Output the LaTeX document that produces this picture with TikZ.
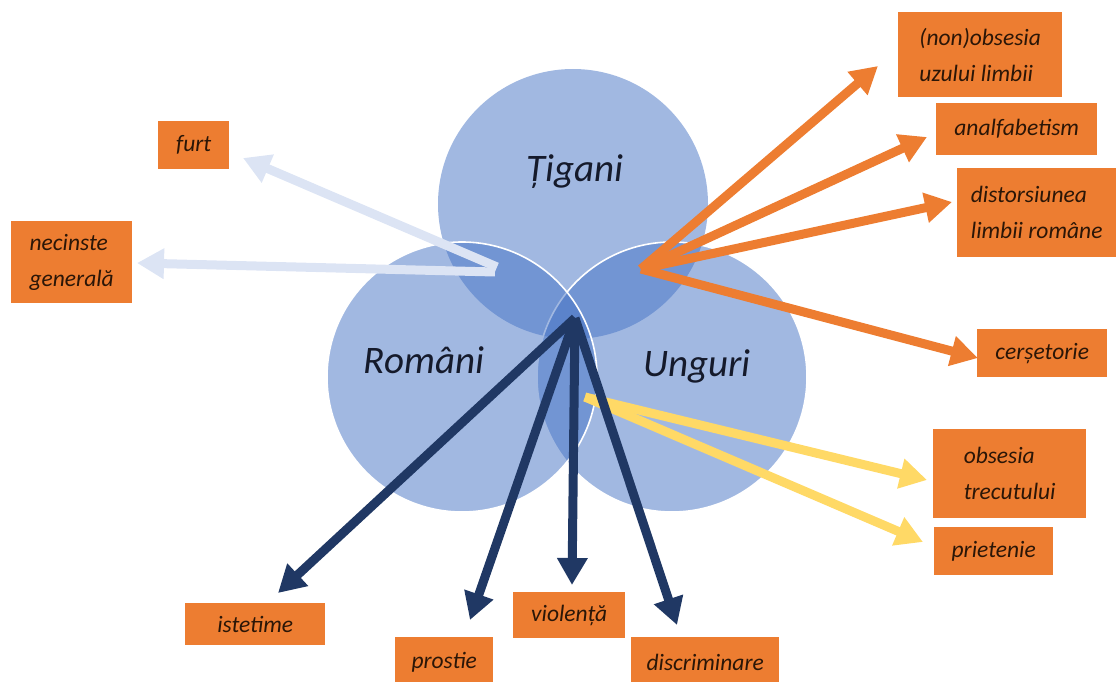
\documentclass[tikz,border=0pt]{standalone}
\usepackage{fontspec}
\setmainfont{Carlito}
\usetikzlibrary{arrows.meta}
\definecolor{venn}{HTML}{4472C4}
\definecolor{tagbox}{HTML}{ED7D31}
\definecolor{tagtext}{HTML}{2B1607}
\definecolor{pale}{HTML}{DCE4F4}
\definecolor{gold}{HTML}{FFD966}
\definecolor{navy}{HTML}{203864}
\definecolor{labelink}{HTML}{151A2B}
\begin{document}
\begin{tikzpicture}[x=1pt,y=-1pt,
  set/.style={circle, minimum size=270pt, inner sep=0pt, fill=venn, fill opacity=0.5},
  setline/.style={draw=white, line width=1.6pt},
  setlabel/.style={font=\fontsize{39}{44}\selectfont\itshape, text=labelink},
  tag/.style={fill=tagbox, text=tagtext, font=\fontsize{23.5}{36}\selectfont\itshape,
    align=left, inner sep=0pt, anchor=north west},
  link/.style={line width=9pt, -{Triangle[length=27pt,width=29pt]}},
]
\useasboundingbox (0,0) rectangle (1117,682);

% the three overlapping sets
\node[set] (tig) at (573,204) {};
\node[set, setline] (ung) at (672,377) {};
\node[set, setline] (rom) at (462,377) {};

\node[setlabel] (tiglabel) at (575,172) {Țigani};
\node[setlabel] (romlabel) at (424,360) {Români};
\node[setlabel] (unglabel) at (697,366) {Unguri};

% hubs where the bundles of arrows start
\coordinate (hubpale) at (497,267);
\coordinate (hubpaleb) at (495,272);
\coordinate (huborange) at (641,269);
\coordinate (hubgold) at (585,397);
\coordinate (hubnavy) at (575,318);

% arrow tips
\coordinate (tipfurt) at (243,158);
\coordinate (tipnec) at (137,263);
\coordinate (tipnon) at (878,66);
\coordinate (tipanalf) at (927,137);
\coordinate (tipdist) at (952,202);
\coordinate (tipcers) at (978,358);
\coordinate (tipobs) at (927,480);
\coordinate (tippriet) at (923,542);
\coordinate (tipist) at (278,593);
\coordinate (tipprost) at (470,620);
\coordinate (tipviol) at (572,585);
\coordinate (tipdisc) at (677,625);

\draw[link, pale] (hubpale) -- (tipfurt);
\draw[link, pale] (hubpaleb) -- (tipnec);

\draw[link, tagbox] (huborange) -- (tipnon);
\draw[link, tagbox] (huborange) -- (tipanalf);
\draw[link, tagbox] (huborange) -- (tipdist);
\draw[link, tagbox] (huborange) -- (tipcers);

\draw[link, gold] (hubgold) -- (tipobs);
\draw[link, gold] (hubgold) -- (tippriet);

\draw[link, navy] (hubnavy) -- (tipist);
\draw[link, navy] (hubnavy) -- (tipprost);
\draw[link, navy] (hubnavy) -- (tipviol);
\draw[link, navy] (hubnavy) -- (tipdisc);

% labelled boxes
\node[tag, minimum width=71pt, minimum height=48pt] (furt) at (158,121) {furt};
\node[tag, minimum width=121pt, minimum height=82pt] (nec) at (11,221) {necinste\\generală};
\node[tag, minimum width=164pt, minimum height=85pt] (non) at (898,12) {(non)obsesia\\uzului limbii};
\node[tag, minimum width=161pt, minimum height=52pt] (analf) at (936,103) {analfabetism};
\node[tag, minimum width=159pt, minimum height=89pt] (dist) at (957,168) {distorsiunea\\limbii române};
\node[tag, minimum width=130pt, minimum height=48pt] (cers) at (977,329) {cerșetorie};
\node[tag, minimum width=153pt, minimum height=89pt] (obs) at (933,429) {obsesia\\trecutului};
\node[tag, minimum width=119pt, minimum height=48pt] (priet) at (934,527) {prietenie};
\node[tag, minimum width=140pt, minimum height=42pt] (ist) at (185,603) {istetime};
\node[tag, minimum width=98pt, minimum height=50pt] (prost) at (395,637) {prostie};
\node[tag, minimum width=112pt, minimum height=46pt] (viol) at (513,592) {violență};
\node[tag, minimum width=148pt, minimum height=50pt] (disc) at (631,637) {discriminare};
\end{tikzpicture}
\end{document}
